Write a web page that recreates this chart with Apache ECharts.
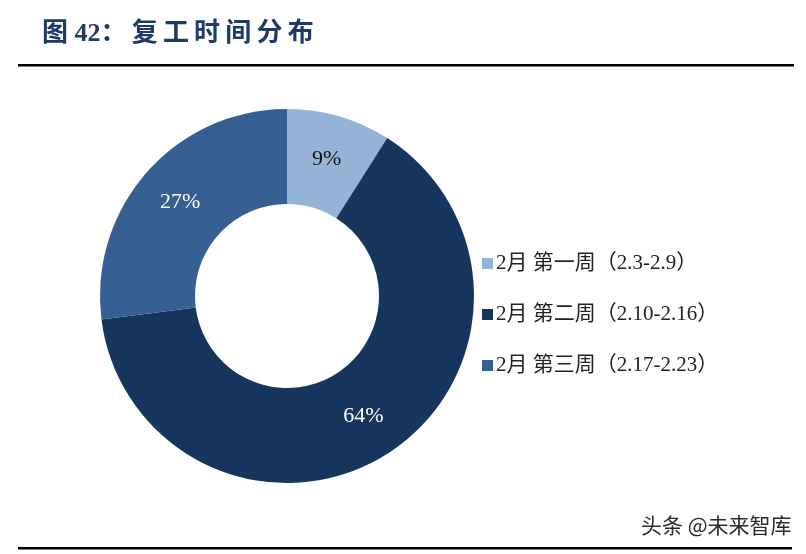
<!DOCTYPE html>
<html>
<head>
<meta charset="utf-8">
<style>
  html, body { margin: 0; padding: 0; background: #fff; }
  #main { width: 806px; height: 554px; }
</style>
<script src="https://cdn.jsdelivr.net/npm/echarts@6/dist/echarts.min.js"></script>
</head>
<body>
<div id="main"></div>
<script>
  var categories = ['2月 第一周（2.3-2.9）', '2月 第二周（2.10-2.16）', '2月 第三周（2.17-2.23）']
  var values = [9, 64, 27]
  var colors = ['#95B3D7', '#17365D', '#366092']
  var labelColors = ['#111', '#fff', '#fff']

  var chart = echarts.init(document.getElementById('main'))
  chart.setOption({
    animation: false,
    title: {
      // thin spaces to mimic the wide letter spacing of the original
      text: '图 42：\u2009复\u2009工\u2009时\u2009间\u2009分\u2009布',
      left: 37,
      top: 16,
      textStyle: {
        color: '#1F3A66',
        fontSize: 26,
        fontWeight: 'bold',
        fontFamily: 'Liberation Serif, Noto Sans CJK SC'
      }
    },
    legend: {
      orient: 'vertical',
      left: 477,
      top: 248,
      icon: 'rect',
      itemWidth: 11,
      itemHeight: 11,
      itemGap: 30,
      selectedMode: false,
      textStyle: {
        fontSize: 21,
        color: '#222',
        fontFamily: 'Liberation Serif, Noto Sans CJK SC',
        padding: [0, 0, 0, -2]
      },
      data: categories
    },
    graphic: [
      { type: 'rect', shape: { x: 18, y: 64, width: 776, height: 2.5 }, style: { fill: '#000' } },
      { type: 'rect', shape: { x: 18, y: 547, width: 774, height: 2.5 }, style: { fill: '#000' } },
      {
        type: 'text', left: 641, top: 515,
        style: { text: '头条 @未来智库', fill: '#2a2a2a', font: '21px "Noto Sans CJK SC"' }
      }
    ],
    series: [{
      type: 'pie',
      center: [287, 296],
      radius: [92, 187],
      startAngle: 90,
      clockwise: true,
      avoidLabelOverlap: false,
      label: {
        show: true,
        position: 'inside',
        formatter: '{d}%',
        fontSize: 22,
        fontFamily: 'Liberation Serif',
        textBorderWidth: 0
      },
      labelLine: { show: false },
      emphasis: { disabled: true },
      itemStyle: { borderWidth: 0 },
      data: categories.map(function (name, i) {
        return {
          name: name,
          value: values[i],
          itemStyle: { color: colors[i] },
          label: { color: labelColors[i] }
        }
      })
    }]
  })
</script>
</body>
</html>
